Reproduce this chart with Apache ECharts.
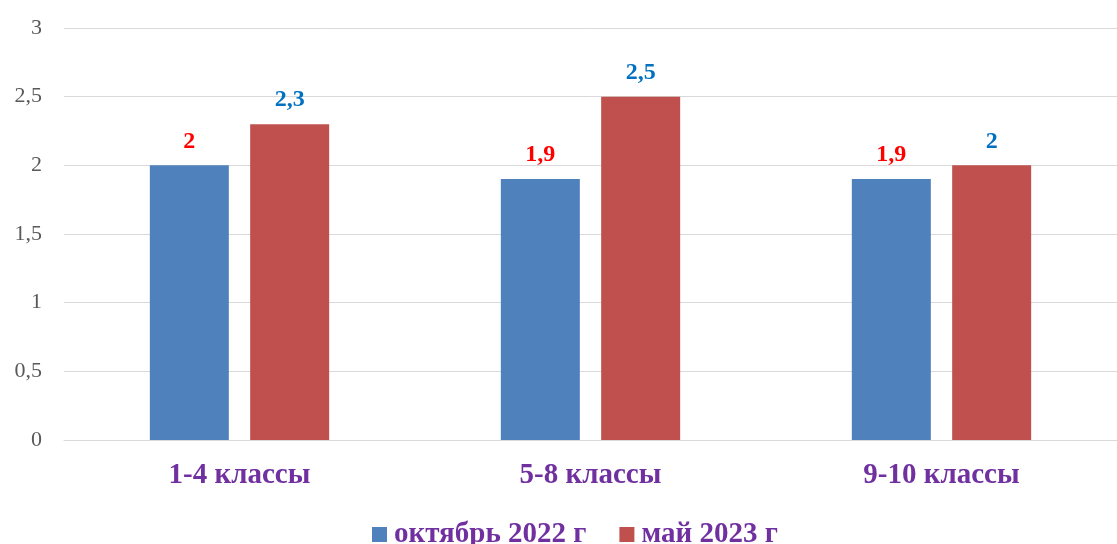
<!DOCTYPE html>
<html>
<head>
<meta charset="utf-8">
<script src="https://cdn.jsdelivr.net/npm/echarts@6/dist/echarts.min.js"></script>
<style>
  html, body { margin: 0; padding: 0; background: #fff; }
  #chart { width: 1117px; height: 544px; }
</style>
</head>
<body>
<div id="chart"></div>
<script>
var categories = ["1-4 классы", "5-8 классы", "9-10 классы"];
var seriesNames = ["октябрь 2022 г", "май 2023 г"];
var octValues = [2, 1.9, 1.9];
var mayValues = [2.3, 2.5, 2];

function comma(v) {
    return String(v).replace(".", ",");
}

var chart = echarts.init(document.getElementById("chart"));

var labelFont = "'Liberation Serif', 'Times New Roman', serif";

option = {
    animation: false,
    grid: {
        left: 64,
        right: 0,
        top: 28,
        bottom: 104
    },
    legend: {
        data: seriesNames,
        bottom: -10,
        left: 367,
        itemWidth: 15,
        itemHeight: 15,
        itemGap: 33,
        icon: "rect",
        textStyle: {
            fontFamily: labelFont,
            fontWeight: "bold",
            fontSize: 29,
            color: "#7030A0",
            padding: [0, 0, 0, 2]
        }
    },
    xAxis: {
        type: "category",
        data: categories,
        axisLine: { lineStyle: { color: "#d9d9d9", width: 1 } },
        axisTick: { show: false },
        axisLabel: {
            margin: 21,
            fontFamily: labelFont,
            fontWeight: "bold",
            fontSize: 29,
            color: "#7030A0"
        }
    },
    yAxis: {
        type: "value",
        min: 0,
        max: 3,
        interval: 0.5,
        axisLine: { show: false },
        axisTick: { show: false },
        splitLine: { lineStyle: { color: "#d9d9d9", width: 1 } },
        axisLabel: {
            margin: 22,
            fontFamily: labelFont,
            fontSize: 22,
            color: "#595959",
            formatter: function (v) { return comma(v); }
        }
    },
    series: [
        {
            name: seriesNames[0],
            type: "bar",
            data: octValues,
            barWidth: 79,
            barGap: "27%",
            itemStyle: { color: "#4F81BD" },
            label: {
                show: true,
                position: "top",
                distance: 12,
                fontFamily: labelFont,
                fontWeight: "bold",
                fontSize: 24,
                color: "#FF0000",
                formatter: function (p) { return comma(p.value); }
            }
        },
        {
            name: seriesNames[1],
            type: "bar",
            data: mayValues,
            barWidth: 79,
            barGap: "27%",
            itemStyle: { color: "#C0504D" },
            label: {
                show: true,
                position: "top",
                distance: 12,
                fontFamily: labelFont,
                fontWeight: "bold",
                fontSize: 24,
                color: "#0070C0",
                formatter: function (p) { return comma(p.value); }
            }
        }
    ]
};

chart.setOption(option);
</script>
</body>
</html>
